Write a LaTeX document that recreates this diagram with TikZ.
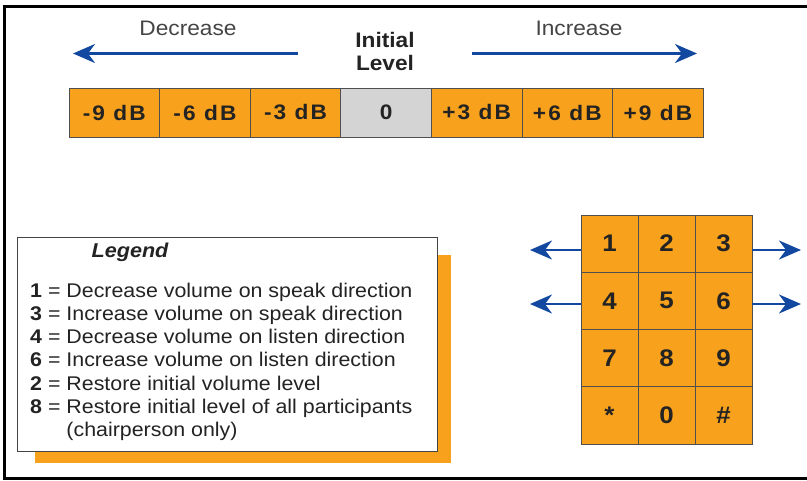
\documentclass[tikz,border=0pt]{standalone}
\usepackage{fontspec}
\setmainfont[FakeStretch=1.08]{Liberation Sans}
\definecolor{keyorange}{RGB}{247, 161, 28}
\definecolor{levelgray}{RGB}{212, 212, 212}
\definecolor{arrowblue}{RGB}{18, 72, 160}
\definecolor{inkgray}{RGB}{35, 35, 35}
\usetikzlibrary{arrows.meta, positioning, calc}
\tikzset{
  cellnode/.style={draw=inkgray!80, line width=0.8pt, inner sep=0pt, text=inkgray},
  levelnode/.style={cellnode, minimum width=90.6pt, minimum height=49pt, font=\fontsize{21}{24}\selectfont\bfseries\addfontfeature{LetterSpace=10}},
  keynode/.style={cellnode, fill=keyorange, minimum width=57pt, minimum height=57.25pt, font=\fontsize{24}{28}\selectfont\bfseries},
  capnode/.style={inner sep=0pt, text=inkgray, font=\fontsize{21}{24}\selectfont},
  legendbox/.style={draw=inkgray!85, line width=0.8pt, fill=white, minimum width=420pt, minimum height=214pt, inner sep=0pt},
  barrow/.style={-{Stealth[length=22pt, width=19pt, inset=7pt]}, line width=2.6pt, arrowblue},
}

\begin{document}
\begin{tikzpicture}[x=1pt, y=-1pt]
  \useasboundingbox (0,0) rectangle (807,480);
  \draw[line width=3pt] (807,6.5) -- (4.5,6.5) -- (4.5,478.5) -- (807,478.5);

  % level scale
  \foreach \lab/\col [count=\i] in {-9 dB/keyorange, -6 dB/keyorange, -3 dB/keyorange, 0/levelgray, +3 dB/keyorange, +6 dB/keyorange, +9 dB/keyorange}
    \node[levelnode, fill=\col] (c\i) at ({69+90.6*(\i-0.5)},112.5) {\lab};
  \node[capnode, font=\fontsize{21}{23.5}\selectfont\bfseries, align=center] (init) at (385,51.5) {Initial\\Level};
  \node[capnode, text=inkgray!85] (dec) at (188,28) {Decrease};
  \node[capnode, text=inkgray!85] (inc) at (579,28) {Increase};
  \coordinate (decS) at (298,53.5);
  \coordinate (decE) at (73,53.5);
  \coordinate (incS) at (472,53.5);
  \coordinate (incE) at (697,53.5);
  \draw[barrow] (decS) -- (decE);
  \draw[barrow] (incS) -- (incE);

  % legend
  \fill[keyorange] (35,255) rectangle (451,463);
  \node[legendbox, anchor=north west] (legend) at (17,237) {};
  \node[capnode, font=\fontsize{20}{23}\selectfont\bfseries\itshape] (ltitle) at (130,252) {Legend};
  \node[capnode, anchor=north west, font=\fontsize{19.8}{23.3}\selectfont, align=left] (ltext) at (30,282.5) {%
    \textbf{1} = Decrease volume on speak direction\\
    \textbf{3} = Increase volume on speak direction\\
    \textbf{4} = Decrease volume on listen direction\\
    \textbf{6} = Increase volume on listen direction\\
    \textbf{2} = Restore initial volume level\\
    \textbf{8} = Restore initial level of all participants\\
    \phantom{\textbf{8} = }(chairperson only)};

  % keypad
  \foreach \lab/\nm/\c/\r in {1/k1/0/0, 2/k2/1/0, 3/k3/2/0, 4/k4/0/1, 5/k5/1/1, 6/k6/2/1,
                              7/k7/0/2, 8/k8/1/2, 9/k9/2/2, */kstar/0/3, 0/k0/1/3, \#/khash/2/3}
    \node[keynode] (\nm) at ({609.5+57*\c},{243.6+57.25*\r}) {\lab};
  \coordinate (l1) at (530,250);
  \coordinate (l4) at (530,304);
  \coordinate (r3) at (801,250);
  \coordinate (r6) at (801,304);
  \draw[barrow] (k1.west |- l1) -- (l1);
  \draw[barrow] (k4.west |- l4) -- (l4);
  \draw[barrow] (k3.east |- r3) -- (r3);
  \draw[barrow] (k6.east |- r6) -- (r6);
\end{tikzpicture}
\end{document}
